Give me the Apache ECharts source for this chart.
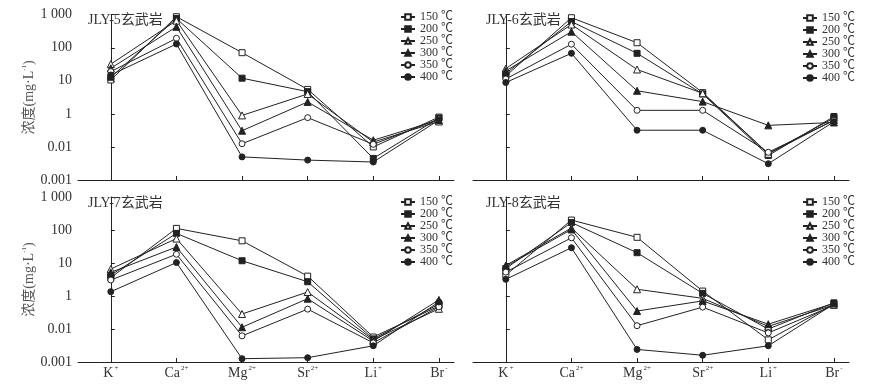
<!DOCTYPE html>
<html><head><meta charset="utf-8">
<script src="https://cdn.jsdelivr.net/npm/echarts@6/dist/echarts.min.js"></script>
<style>html,body{margin:0;padding:0;background:#fff;}#c{width:896px;height:389px;}</style>
</head><body><div id="c"></div>
<script>
// Categories (ions) and their superscript charges
const ions = ['K', 'Ca', 'Mg', 'Sr', 'Li', 'Br'];
const charges = ['+', '2+', '2+', '2+', '+', '-'];
const temps = ['150 ℃', '200 ℃', '250 ℃', '300 ℃', '350 ℃', '400 ℃'];
const panelTitles = ['JLY-5玄武岩', 'JLY-6玄武岩', 'JLY-7玄武岩', 'JLY-8玄武岩'];
// y tick positions (plot scale) and the labels printed at them
const yTickValues = [0.01, 0.1, 1, 10, 100, 1000];
const yTickLabels = ['0.001', '0.01', '1', '10', '100', '1 000'];

// values per temperature (150,200,250,300,350,400 ℃), order K,Ca,Mg,Sr,Li,Br
const jly5 = [
  [10.6, 870, 71, 5.5, 0.10, 0.80],
  [12.8, 770, 12, 4.7, 0.045, 0.75],
  [32, 660, 0.9, 4.0, 0.14, 0.59],
  [24, 430, 0.31, 2.3, 0.16, 0.65],
  [19, 193, 0.125, 0.77, 0.12, 0.70],
  [15, 130, 0.05, 0.04, 0.035, 0.65]
];
const jly6 = [
  [14, 810, 142, 4.4, 0.063, 0.75],
  [16.6, 620, 68, 4.0, 0.055, 0.83],
  [23.5, 505, 22, 4.2, 0.062, 0.65],
  [20, 306, 5.0, 2.35, 0.45, 0.55],
  [11.4, 128, 1.28, 1.28, 0.069, 0.63],
  [8.9, 68, 0.32, 0.32, 0.031, 0.58]
];
const jly7 = [
  [3.6, 112, 47, 4.0, 0.057, 0.50],
  [4.3, 79, 11.7, 2.7, 0.050, 0.57],
  [6.6, 55, 0.285, 1.32, 0.047, 0.41],
  [5.2, 30.5, 0.113, 0.83, 0.043, 0.76],
  [3.05, 18.4, 0.062, 0.40, 0.038, 0.47],
  [1.35, 10.3, 0.0126, 0.0135, 0.031, 0.66]
];
const jly8 = [
  [4.3, 200, 60, 1.41, 0.047, 0.57],
  [6.8, 168, 20.5, 1.2, 0.10, 0.62],
  [8.4, 115, 1.6, 0.85, 0.12, 0.54],
  [7.8, 104, 0.35, 0.71, 0.14, 0.60],
  [5.3, 58, 0.126, 0.46, 0.076, 0.52],
  [3.2, 29, 0.024, 0.016, 0.031, 0.57]
];
const panels = [jly5, jly6, jly7, jly8];

const symbols = ['rect', 'rect', 'triangle', 'triangle', 'circle', 'circle'];
const hollow = [true, false, true, false, true, false];
const symSizes = [6, 6, 7, 7, 6, 6];

const serif = '"Liberation Serif","Noto Sans CJK SC",serif';
const ink = '#222';

const grids = [
  {left: 78, top: 14.7, width: 376, height: 165.3},
  {left: 473, top: 14.7, width: 376, height: 165.3},
  {left: 78, top: 197, width: 376, height: 165},
  {left: 473, top: 197, width: 376, height: 165}
];
const legendPos = [
  {left: 400, top: 11},
  {left: 802, top: 12},
  {left: 400, top: 196},
  {left: 802, top: 196}
];
const titlePos = [
  {left: 88, top: 13},
  {left: 486, top: 13},
  {left: 88, top: 196},
  {left: 486, top: 196}
];

const xAxes = [], yAxes = [], series = [], legends = [], titles = [];
for (let p = 0; p < 4; p++) {
  const bottom = p >= 2, left = (p % 2 === 0);
  xAxes.push({
    gridIndex: p, type: 'value', min: -0.5, max: 5.23,
    axisLine: {lineStyle: {color: ink, width: 1}},
    axisTick: {show: true, inside: true, length: 4, customValues: [0,1,2,3,4,5], lineStyle: {color: ink}},
    splitLine: {show: false},
    axisLabel: {
      show: bottom, customValues: [0,1,2,3,4,5], margin: 3,
      formatter: v => '{b|' + ions[Math.round(v)] + '}{s|' + charges[Math.round(v)] + '}',
      rich: {
        b: {fontFamily: serif, fontSize: 14, color: '#333'},
        s: {fontFamily: serif, fontSize: 7, color: '#333', padding: [0, 0, 9, 1]}
      }
    }
  });
  yAxes.push({
    gridIndex: p, type: 'log', logBase: 10, min: 0.01, max: 1000,
    axisLine: {show: true, lineStyle: {color: ink, width: 1}},
    axisTick: {show: true, inside: true, length: 4, lineStyle: {color: ink}},
    splitLine: {show: false},
    axisLabel: {
      show: left, margin: 6, fontFamily: serif, fontSize: 14, color: '#333',
      formatter: v => {
        const i = yTickValues.findIndex(t => Math.abs(Math.log10(t) - Math.log10(v)) < 1e-6);
        return i >= 0 ? yTickLabels[i] : '';
      }
    },
    name: left ? '{a|浓度(mg·L}{s|-1}{a|)}' : '',
    nameLocation: 'middle', nameGap: 41, nameRotate: 90,
    nameTextStyle: {
      rich: {
        a: {fontFamily: serif, fontSize: 14, color: '#555'},
        s: {fontFamily: serif, fontSize: 7, color: '#555', padding: [0, 0, 9, 0]}
      }
    }
  });
  titles.push({
    text: panelTitles[p], left: titlePos[p].left, top: titlePos[p].top, padding: 0,
    textStyle: {fontFamily: serif, fontSize: 14, fontWeight: 'normal', color: '#333'}
  });
  legends.push({
    data: temps, orient: 'vertical', left: legendPos[p].left, top: legendPos[p].top,
    itemWidth: 14, itemHeight: 7, itemGap: 0, padding: 0,
    textStyle: {fontFamily: serif, fontSize: 12, color: '#333', lineHeight: 12}
  });
  panels[p].forEach((vals, t) => {
    series.push({
      name: temps[t], type: 'line', xAxisIndex: p, yAxisIndex: p,
      data: vals.map((v, i) => [i, v]),
      symbol: symbols[t], symbolSize: symSizes[t], showAllSymbol: true,
      lineStyle: {color: ink, width: 1},
      itemStyle: hollow[t] ? {color: '#fff', borderColor: ink, borderWidth: 1} : {color: ink, borderColor: ink, borderWidth: 1},
      emphasis: {disabled: true}, animation: false, z: 3
    });
  });
}

const chart = echarts.init(document.getElementById('c'), null, {renderer: 'canvas'});
chart.setOption({
  backgroundColor: '#fff', animation: false,
  title: titles, legend: legends, grid: grids,
  xAxis: xAxes, yAxis: yAxes, series: series
});
</script></body></html>
